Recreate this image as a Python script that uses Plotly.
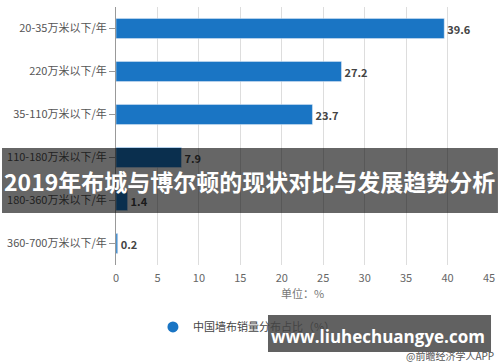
import plotly.graph_objects as go

categories = ["20-35万米以下/年", "220万米以下/年", "35-110万米以下/年",
              "110-180万米以下/年", "180-360万米以下/年", "360-700万米以下/年"]
values = [39.6, 27.2, 23.7, 7.9, 1.4, 0.2]
series_name = "中国墙布销量分布占比（%）"
x_ticks = [0, 5, 10, 15, 20, 25, 30, 35, 40, 45]
title_text = "2019年布城与博尔顿的现状对比与发展趋势分析"
site_text = "www.liuhechuangye.com"
source_text = "@前瞻经济学人APP"

FONT = "Noto Sans CJK SC, Microsoft YaHei, sans-serif"
BLUE = "#1a75c4"

fig = go.Figure()
fig.add_trace(go.Bar(
    y=categories, x=values, orientation="h",
    marker=dict(color=BLUE), width=0.47,
    text=[f"{v:.1f}" for v in values], textposition="outside",
    textfont=dict(family=FONT, size=11, color="#444444", weight="bold"),
    cliponaxis=False, showlegend=False, hoverinfo="x+y",
))
fig.add_trace(go.Scatter(
    x=[None], y=[None], mode="markers", name=series_name,
    marker=dict(symbol="circle", size=11, color=BLUE), showlegend=True,
))

fig.update_layout(
    width=500, height=362,
    margin=dict(l=116, r=11, t=7, b=97, autoexpand=False),
    paper_bgcolor="white", plot_bgcolor="white",
    font=dict(family=FONT, size=11, color="#555555"),
    xaxis=dict(range=[0, 45], tickvals=x_ticks, showgrid=True, gridcolor="#dddddd",
               gridwidth=1, zeroline=False, showline=False, automargin=False,
               ticks="outside", ticklen=3, tickcolor="rgba(0,0,0,0)",
               tickfont=dict(size=11, color="#666666"),
               title=dict(text="单位：%", font=dict(size=11, color="#777777"), standoff=5)),
    yaxis=dict(categoryorder="array", categoryarray=categories, autorange="reversed",
               showline=True, linecolor="#999999", linewidth=1, automargin=False,
               ticks="outside", ticklen=6, tickcolor="#999999",
               tickfont=dict(size=11, color="#555555"), showgrid=False),
    legend=dict(orientation="h", x=0.099, xanchor="left", y=-0.24, yanchor="middle",
                font=dict(size=11, color="#444444"), bgcolor="rgba(0,0,0,0)"),
    shapes=[
        dict(type="rect", xref="paper", yref="paper", x0=-0.3056, x1=1.024,
             y0=0.2016, y1=0.4535, fillcolor="rgba(0,0,0,0.6)", line=dict(width=0),
             layer="above"),
        dict(type="rect", xref="paper", yref="paper", x0=0.4075, x1=1.0054,
             y0=-0.3372, y1=-0.1938, fillcolor="rgba(0,0,0,0.62)", line=dict(width=0),
             layer="above"),
    ],
    annotations=[
        dict(text=title_text, xref="paper", yref="paper", x=0.3592, y=0.3256,
             showarrow=False, font=dict(family=FONT, size=23, color="white", weight="bold"),
             xanchor="center", yanchor="middle"),
        dict(text=site_text, xref="paper", yref="paper", x=0.703, y=-0.279,
             showarrow=False, font=dict(family="Open Sans, DejaVu Sans, sans-serif", size=17,
                                        color="white", weight="bold"),
             xanchor="center", yanchor="middle"),
        dict(text=source_text, xref="paper", yref="paper", x=1.02, y=-0.35,
             showarrow=False, font=dict(family=FONT, size=10, color="#555555"),
             xanchor="right", yanchor="middle"),
    ],
)

fig.write_html("out.html", config={"displayModeBar": False},
               post_script="document.body.style.margin='0';")
